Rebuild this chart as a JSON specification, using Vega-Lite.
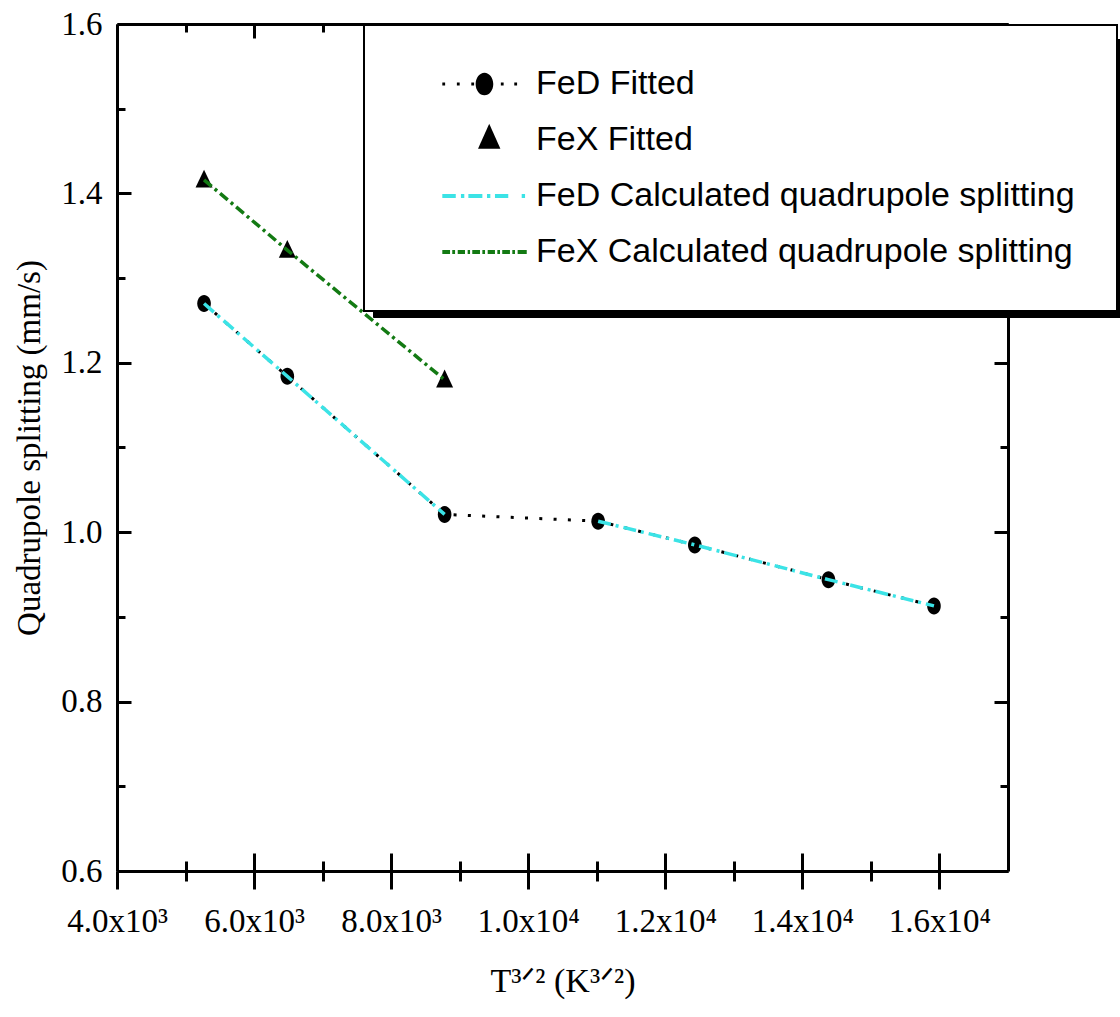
{
  "$schema": "https://vega.github.io/schema/vega-lite/v6.json",
  "width": 891,
  "height": 847,
  "autosize": {"type": "none"},
  "padding": {"left": 117, "top": 24, "right": 112, "bottom": 146},
  "background": "white",
  "config": {
    "view": {"stroke": null},
    "axis": {"domainColor": "black", "tickColor": "black", "labelColor": "black", "titleColor": "black", "grid": false, "domainWidth": 3, "tickWidth": 3, "labelFlush": false, "labelOverlap": false, "labelBound": false},
    "legend": {"orient": "none", "direction": "vertical", "padding": 42, "rowPadding": 22, "labelFont": "Liberation Sans", "labelFontSize": 34, "labelColor": "black", "labelLimit": 0, "symbolSize": 784, "symbolStrokeWidth": 0, "strokeColor": "black"}
  },
  "datasets": {
    "feD": [
      {"T": 5270, "QS": 1.270},
      {"T": 6485, "QS": 1.184},
      {"T": 8780, "QS": 1.021},
      {"T": 11020, "QS": 1.013},
      {"T": 12430, "QS": 0.985},
      {"T": 14380, "QS": 0.944},
      {"T": 15920, "QS": 0.913}
    ],
    "feDcalc": [
      {"T": 5270, "QS": 1.270, "seg": "a"},
      {"T": 6485, "QS": 1.184, "seg": "a"},
      {"T": 8780, "QS": 1.021, "seg": "a"},
      {"T": 11020, "QS": 1.013, "seg": "b"},
      {"T": 12430, "QS": 0.985, "seg": "b"},
      {"T": 14380, "QS": 0.944, "seg": "b"},
      {"T": 15920, "QS": 0.913, "seg": "b"}
    ],
    "feX": [
      {"T": 5270, "QS": 1.416},
      {"T": 6485, "QS": 1.333},
      {"T": 8780, "QS": 1.180}
    ],
    "feXcalc": [
      {"T": 5270, "QS": 1.416},
      {"T": 6485, "QS": 1.333},
      {"T": 8780, "QS": 1.180}
    ],
    "legendItems": [
      {"series": "FeD Fitted", "key": "s1"},
      {"series": "FeX Fitted", "key": "s2"},
      {"series": "FeD Calculated quadrupole splitting", "key": "s3"},
      {"series": "FeX Calculated quadrupole splitting", "key": "s4"}
    ]
  },
  "layer": [
    {
      "data": {"name": "legendItems"},
      "transform": [{"filter": "false"}],
      "mark": {"type": "point", "filled": true, "size": 784, "opacity": 1},
      "encoding": {
        "x": {"field": "T", "type": "quantitative", "scale": {"domain": [4000, 17000], "nice": false, "zero": false},
          "axis": {"orient": "bottom", "values": [4000, 6000, 8000, 10000, 12000, 14000, 16000], "tickSize": 18, "labelPadding": 16, "labelFont": "Liberation Serif", "labelFontSize": 33,
            "labelExpr": "datum.value < 10000 ? format(datum.value/1000, '.1f') + 'x10³' : format(datum.value/10000, '.1f') + 'x10⁴'",
            "title": "T³ᐟ² (K³ᐟ²)", "titleFont": "Liberation Serif", "titleFontSize": 34, "titleFontWeight": "normal", "titlePadding": 26, "domain": true}},
        "y": {"field": "QS", "type": "quantitative", "scale": {"domain": [0.6, 1.6], "nice": false, "zero": false},
          "axis": {"orient": "left", "values": [0.6, 0.8, 1.0, 1.2, 1.4, 1.6], "ticks": false, "labelPadding": 15, "format": ".1f", "labelFont": "Liberation Serif", "labelFontSize": 33,
            "title": "Quadrupole splitting (mm/s)", "titleFont": "Liberation Serif", "titleFontSize": 33, "titleFontWeight": "normal", "titlePadding": 14, "domain": true}},
        "color": {"field": "series", "type": "nominal",
          "scale": {"domain": ["FeD Fitted", "FeX Fitted", "FeD Calculated quadrupole splitting", "FeX Calculated quadrupole splitting"], "range": ["black", "black", "#3BE3E6", "#137A13"]},
          "legend": {"legendX": 247, "legendY": 1, "title": null, "fillColor": "white", "labelOffset": 96, "symbolOpacity": 1, "zindex": 2,
            "encode": {"legend": {"update": {"strokeWidth": {"value": 2}}}}}},
        "shape": {"field": "series", "type": "nominal",
          "scale": {"domain": ["FeD Fitted", "FeX Fitted", "FeD Calculated quadrupole splitting", "FeX Calculated quadrupole splitting"],
            "range": [
              "M1.38,-0.1h0.2v0.2h-0.2Z M2.42,-0.1h0.2v0.2h-0.2Z M3.45,-0.1h0.2v0.2h-0.2Z M5.56,-0.1h0.2v0.2h-0.2Z M6.52,-0.1h0.2v0.2h-0.2Z M3.76,0A0.63,0.81,0,1,0,5.02,0A0.63,0.81,0,1,0,3.76,0Z",
              "M4.73,-1.16L5.53,0.62L3.93,0.62Z",
              "M1.38,-0.14H2.34V0.14H1.38Z M2.71,-0.14H2.95V0.14H2.71Z M3.24,-0.14H4.24V0.14H3.24Z M4.57,-0.14H4.81V0.14H4.57Z M5.14,-0.14H6.09V0.14H5.14Z M7.05,-0.14H7.29V0.14H7.05Z",
              "M1.38,-0.14H1.93V0.14H1.38Z M2.09,-0.14H2.29V0.14H2.09Z M2.48,-0.14H3.0V0.14H2.48Z M3.19,-0.14H3.36V0.14H3.19Z M3.52,-0.14H4.07V0.14H3.52Z M4.24,-0.14H4.43V0.14H4.24Z M4.62,-0.14H5.14V0.14H4.62Z M5.31,-0.14H5.5V0.14H5.31Z M5.66,-0.14H6.21V0.14H5.66Z M6.38,-0.14H6.57V0.14H6.38Z M6.76,-0.14H7.41V0.14H6.76Z"
            ]},
          "legend": {"legendX": 247, "legendY": 1, "title": null, "fillColor": "white", "labelOffset": 96, "symbolOpacity": 1, "zindex": 2,
            "encode": {"legend": {"update": {"strokeWidth": {"value": 2}}}}}},
        "opacity": {"field": "key", "type": "ordinal",
          "scale": {"domain": ["s1", "s2", "s3", "s4"], "range": [0, 0]},
          "legend": {"legendX": 256, "legendY": 15, "title": null, "fillColor": "black", "labelOffset": 623, "labelFontSize": 49, "zindex": 1,
            "labelExpr": "' '"}}
      }
    },
    {
      "data": {"name": "feD"},
      "mark": {"type": "line", "color": "black", "strokeWidth": 3, "strokeDash": [3, 11.3], "strokeCap": "butt"},
      "encoding": {
        "x": {"field": "T", "type": "quantitative", "axis": {"orient": "bottom", "values": [4000, 6000, 8000, 10000, 12000, 14000, 16000], "labels": false, "domain": false, "tickSize": -18, "title": null}},
        "y": {"field": "QS", "type": "quantitative", "axis": {"orient": "left", "values": [0.6, 0.8, 1.0, 1.2, 1.4, 1.6], "labels": false, "domain": false, "tickSize": -14, "title": null}}
      }
    },
    {
      "data": {"name": "feD"},
      "mark": {"type": "point", "filled": true, "color": "black", "opacity": 1, "size": 289, "shape": "M-0.8,0A0.8,1,0,1,0,0.8,0A0.8,1,0,1,0,-0.8,0Z"},
      "encoding": {
        "x": {"field": "T", "type": "quantitative", "axis": {"orient": "bottom", "values": [5000, 7000, 9000, 11000, 13000, 15000], "labels": false, "domain": false, "tickSize": 10, "title": null}},
        "y": {"field": "QS", "type": "quantitative", "axis": {"orient": "left", "values": [0.7, 0.9, 1.1, 1.3, 1.5], "labels": false, "domain": false, "tickSize": -8, "title": null}}
      }
    },
    {
      "data": {"name": "feX"},
      "mark": {"type": "point", "filled": true, "color": "black", "opacity": 1, "size": 289, "shape": "M0,-1.2L1,0.9L-1,0.9Z"},
      "encoding": {
        "x": {"field": "T", "type": "quantitative", "axis": {"orient": "bottom", "values": [5000, 7000, 9000, 11000, 13000, 15000], "labels": false, "domain": false, "tickSize": -10, "title": null}},
        "y": {"field": "QS", "type": "quantitative", "axis": {"orient": "right", "values": [0.6, 0.8, 1.0, 1.2, 1.4, 1.6], "labels": false, "domain": true, "tickSize": -14, "title": null}}
      }
    },
    {
      "data": {"name": "feDcalc"},
      "mark": {"type": "line", "color": "#3BE3E6", "strokeWidth": 3.5, "strokeDash": [13, 5, 3, 5], "strokeCap": "butt"},
      "encoding": {
        "detail": {"field": "seg", "type": "nominal"},
        "x": {"field": "T", "type": "quantitative", "axis": {"orient": "top", "values": [4000, 6000, 8000, 10000, 12000, 14000, 16000], "labels": false, "domain": true, "tickSize": -14, "title": null}},
        "y": {"field": "QS", "type": "quantitative", "axis": {"orient": "right", "values": [0.7, 0.9, 1.1, 1.3, 1.5], "labels": false, "domain": false, "tickSize": -8, "title": null}}
      }
    },
    {
      "data": {"name": "feXcalc"},
      "mark": {"type": "line", "color": "#137A13", "strokeWidth": 3.5, "strokeDash": [10, 4, 3, 4], "strokeCap": "butt"},
      "encoding": {
        "x": {"field": "T", "type": "quantitative", "axis": {"orient": "top", "values": [5000, 7000, 9000, 11000, 13000, 15000], "labels": false, "domain": false, "tickSize": -8, "title": null}},
        "y": {"field": "QS", "type": "quantitative", "axis": null}
      }
    }
  ],
  "resolve": {"axis": {"x": "independent", "y": "independent"}}
}
